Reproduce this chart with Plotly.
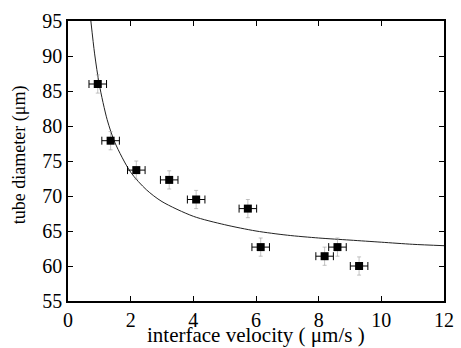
import plotly.graph_objects as go

# measured points
velocity = [0.95, 1.36, 2.18, 3.23, 4.09, 5.74, 6.15, 8.19, 8.60, 9.29]
diameter = [86.0, 77.9, 73.7, 72.3, 69.5, 68.2, 62.7, 61.4, 62.7, 60.0]
velocity_err = [0.28] * 10
diameter_err = [1.3] * 10

# fitted curve
curve_v = [0.73, 0.85, 1.0, 1.25, 1.5, 2.0, 2.5, 3.0, 4.0, 5.0, 6.0, 7.0, 8.0, 9.0, 10.0, 11.0, 12.0]
curve_d = [95.0, 90.3, 85.9, 80.9, 77.6, 73.4, 70.9, 69.2, 67.1, 65.9, 65.0, 64.4, 64.0, 63.7, 63.4, 63.1, 62.9]

x_ticks = [0, 2, 4, 6, 8, 10, 12]
y_ticks = [55, 60, 65, 70, 75, 80, 85, 90, 95]

x_title = "interface velocity ( μm/s )"
y_title = "tube diameter (μm)"

font_family = "Liberation Serif"

fig = go.Figure()
fig.add_trace(go.Scatter(
    x=curve_v, y=curve_d, mode="lines",
    line=dict(color="#222", width=1, shape="spline", smoothing=0.8),
    showlegend=False, hoverinfo="skip"))
fig.add_trace(go.Scatter(
    x=velocity, y=diameter, mode="markers",
    marker=dict(symbol="square", size=8, color="black"),
    error_x=dict(type="data", array=velocity_err, color="black", thickness=1, width=4),
    error_y=dict(type="data", array=diameter_err, color="#9a9a9a", thickness=0.6, width=2),
    showlegend=False))

axis_common = dict(
    showgrid=False, zeroline=False, showline=True, linecolor="black", linewidth=1.5,
    mirror="ticks", ticks="inside", ticklen=5, tickwidth=1.2, tickcolor="black",
    automargin=False,
    tickfont=dict(family=font_family, size=20, color="black"))

fig.update_xaxes(range=[0, 12], tickvals=x_ticks, **axis_common)
fig.update_yaxes(range=[55, 95], tickvals=y_ticks, **axis_common)

fig.add_annotation(text=x_title, xref="paper", yref="paper", x=0.5, y=-0.168,
                   xanchor="center", yanchor="bottom", showarrow=False, borderpad=0,
                   font=dict(family=font_family, size=21, color="black"))
fig.add_annotation(text=y_title, xref="paper", yref="paper", x=-0.1303, y=0.521,
                   xanchor="center", yanchor="middle", textangle=-90, showarrow=False,
                   font=dict(family=font_family, size=18, color="black"))

fig.update_layout(
    width=461, height=348,
    margin=dict(l=68, r=17, t=21, b=47),
    plot_bgcolor="white", paper_bgcolor="white")

fig.write_html("out.html", config={"displayModeBar": False},
               post_script="document.body.style.margin='0';document.body.style.overflow='hidden';")
